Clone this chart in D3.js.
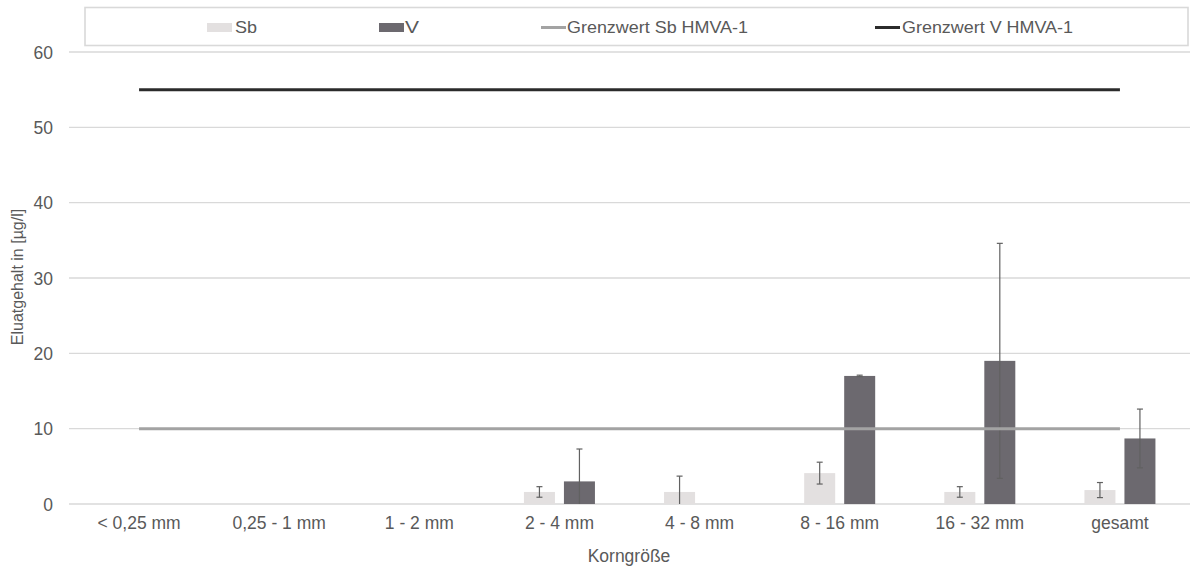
<!DOCTYPE html>
<html>
<head>
<meta charset="utf-8">
<script src="https://cdn.jsdelivr.net/npm/d3@7"></script>
<style>
  html, body { margin: 0; padding: 0; background: #fff; }
  svg { display: block; font-family: "Liberation Sans", Arial, sans-serif; }
</style>
</head>
<body>
<svg id="chart" width="1192" height="569"></svg>
<script>
// Korngrößenklassen
const categories = ["< 0,25 mm", "0,25 - 1 mm", "1 - 2 mm", "2 - 4 mm", "4 - 8 mm", "8 - 16 mm", "16 - 32 mm", "gesamt"];
// Mittelwerte Eluatgehalt [µg/l]
const sbValues = [0, 0, 0, 1.6, 1.6, 4.1, 1.6, 1.85];
const vValues  = [0, 0, 0, 3.0, 0, 17.0, 19.0, 8.7];
// Standardabweichungen (null = kein Fehlerbalken)
const sbErrors = [null, null, null, 0.7, 2.1, 1.45, 0.7, 1.0];
const vErrors  = [null, null, null, 4.3, null, 0.1, 15.6, 3.9];
// Grenzwerte HMVA-1
const limitSb = 10;
const limitV = 55;
const yTicks = [0, 10, 20, 30, 40, 50, 60];

const svg = d3.select("#chart");
const margin = { left: 69, right: 2 };
const W = 1192;
const plotW = W - margin.left - margin.right;

const x = d3.scaleBand().domain(categories).range([margin.left, margin.left + plotW]).paddingInner(0).paddingOuter(0);
const y = d3.scaleLinear().domain([0, 60]).range([504, 52]);

const textColor = "#595959";
const gridColor = "#d9d9d9";
const sbColor = "#e3e0e0";
const vColor = "#6c696f";
const sbLineColor = "#a3a3a3";
const vLineColor = "#2b2b2b";
const errColor = "#616161";
const tickFont = "17.5px";

// Gitterlinien
svg.append("g")
  .selectAll("line")
  .data(yTicks)
  .join("line")
  .attr("x1", margin.left).attr("x2", margin.left + plotW)
  .attr("y1", d => y(d)).attr("y2", d => y(d))
  .attr("stroke", gridColor).attr("stroke-width", 1.3);

// y-Achse Beschriftung
const yAxis = d3.axisLeft(y).tickValues(yTicks).tickSize(0).tickPadding(16).tickFormat(d3.format("d"));
const gy = svg.append("g").attr("transform", `translate(${margin.left},0)`).call(yAxis);
gy.select(".domain").remove();
gy.selectAll("text").attr("fill", textColor).style("font-size", tickFont).attr("dy", "0.35em");

// x-Achse Beschriftung
const xAxis = d3.axisBottom(x).tickSize(0).tickPadding(13);
const gx = svg.append("g").attr("transform", `translate(0,${y(0)})`).call(xAxis);
gx.select(".domain").remove();
gx.selectAll("text").attr("fill", textColor).style("font-size", tickFont);

// Balken
const barW = 31, gap = 9;
const sbX = c => x(c) + x.bandwidth() / 2 - gap / 2 - barW;
const vX = c => x(c) + x.bandwidth() / 2 + gap / 2;

svg.append("g").selectAll("rect")
  .data(categories.map((c, i) => ({ c, v: sbValues[i] })).filter(d => d.v > 0))
  .join("rect")
  .attr("x", d => sbX(d.c)).attr("width", barW)
  .attr("y", d => y(d.v)).attr("height", d => y(0) - y(d.v))
  .attr("fill", sbColor);

svg.append("g").selectAll("rect")
  .data(categories.map((c, i) => ({ c, v: vValues[i] })).filter(d => d.v > 0))
  .join("rect")
  .attr("x", d => vX(d.c)).attr("width", barW)
  .attr("y", d => y(d.v)).attr("height", d => y(0) - y(d.v))
  .attr("fill", vColor);

// Fehlerbalken
function errorBars(values, errors, xf) {
  const data = categories.map((c, i) => ({ c, v: values[i], e: errors[i] })).filter(d => d.e !== null);
  const g = svg.append("g").attr("stroke", errColor).attr("stroke-width", 1.2);
  data.forEach(d => {
    const cx = xf(d.c) + barW / 2;
    const hi = y(d.v + d.e);
    const lo = y(Math.max(0, d.v - d.e));
    g.append("line").attr("x1", cx).attr("x2", cx).attr("y1", hi).attr("y2", lo);
    g.append("line").attr("x1", cx - 3).attr("x2", cx + 3).attr("y1", hi).attr("y2", hi);
    if (d.v - d.e > 0) g.append("line").attr("x1", cx - 3).attr("x2", cx + 3).attr("y1", lo).attr("y2", lo);
  });
}
errorBars(sbValues, sbErrors, sbX);
errorBars(vValues, vErrors, vX);

// Grenzwertlinien
const lineX1 = x(categories[0]) + x.bandwidth() / 2;
const lineX2 = x(categories[categories.length - 1]) + x.bandwidth() / 2;
svg.append("line").attr("x1", lineX1).attr("x2", lineX2).attr("y1", y(limitSb)).attr("y2", y(limitSb))
  .attr("stroke", sbLineColor).attr("stroke-width", 3);
svg.append("line").attr("x1", lineX1).attr("x2", lineX2).attr("y1", y(limitV)).attr("y2", y(limitV))
  .attr("stroke", vLineColor).attr("stroke-width", 3);

// Achsentitel
svg.append("text")
  .attr("transform", `translate(23,277) rotate(-90)`)
  .attr("text-anchor", "middle")
  .attr("fill", textColor).style("font-size", "16px")
  .text("Eluatgehalt in [µg/l]");
svg.append("text")
  .attr("x", 629).attr("y", 562)
  .attr("text-anchor", "middle")
  .attr("fill", textColor).style("font-size", tickFont)
  .text("Korngröße");

// Legende
const legend = svg.append("g");
legend.append("rect").attr("x", 85).attr("y", 7.5).attr("width", 1103).attr("height", 38)
  .attr("fill", "#fff").attr("stroke", gridColor).attr("stroke-width", 1.6);
const legendItems = [
  { label: "Sb", type: "rect", color: sbColor, x: 207, tx: 235, tw: 22 },
  { label: "V", type: "rect", color: vColor, x: 379, tx: 405, tw: 14 },
  { label: "Grenzwert Sb HMVA-1", type: "line", color: sbLineColor, x: 541, tx: 567, tw: 181 },
  { label: "Grenzwert V HMVA-1", type: "line", color: vLineColor, x: 875, tx: 902, tw: 171 }
];
legendItems.forEach(it => {
  if (it.type === "rect") {
    legend.append("rect").attr("x", it.x).attr("y", 23).attr("width", 25).attr("height", 9).attr("fill", it.color);
  } else {
    legend.append("line").attr("x1", it.x).attr("x2", it.x + 25).attr("y1", 27.5).attr("y2", 27.5)
      .attr("stroke", it.color).attr("stroke-width", 3);
  }
  legend.append("text").attr("x", it.tx).attr("y", 33)
    .attr("fill", textColor).style("font-size", "17px")
    .attr("textLength", it.tw).attr("lengthAdjust", "spacingAndGlyphs")
    .text(it.label);
});
</script>
</body>
</html>
